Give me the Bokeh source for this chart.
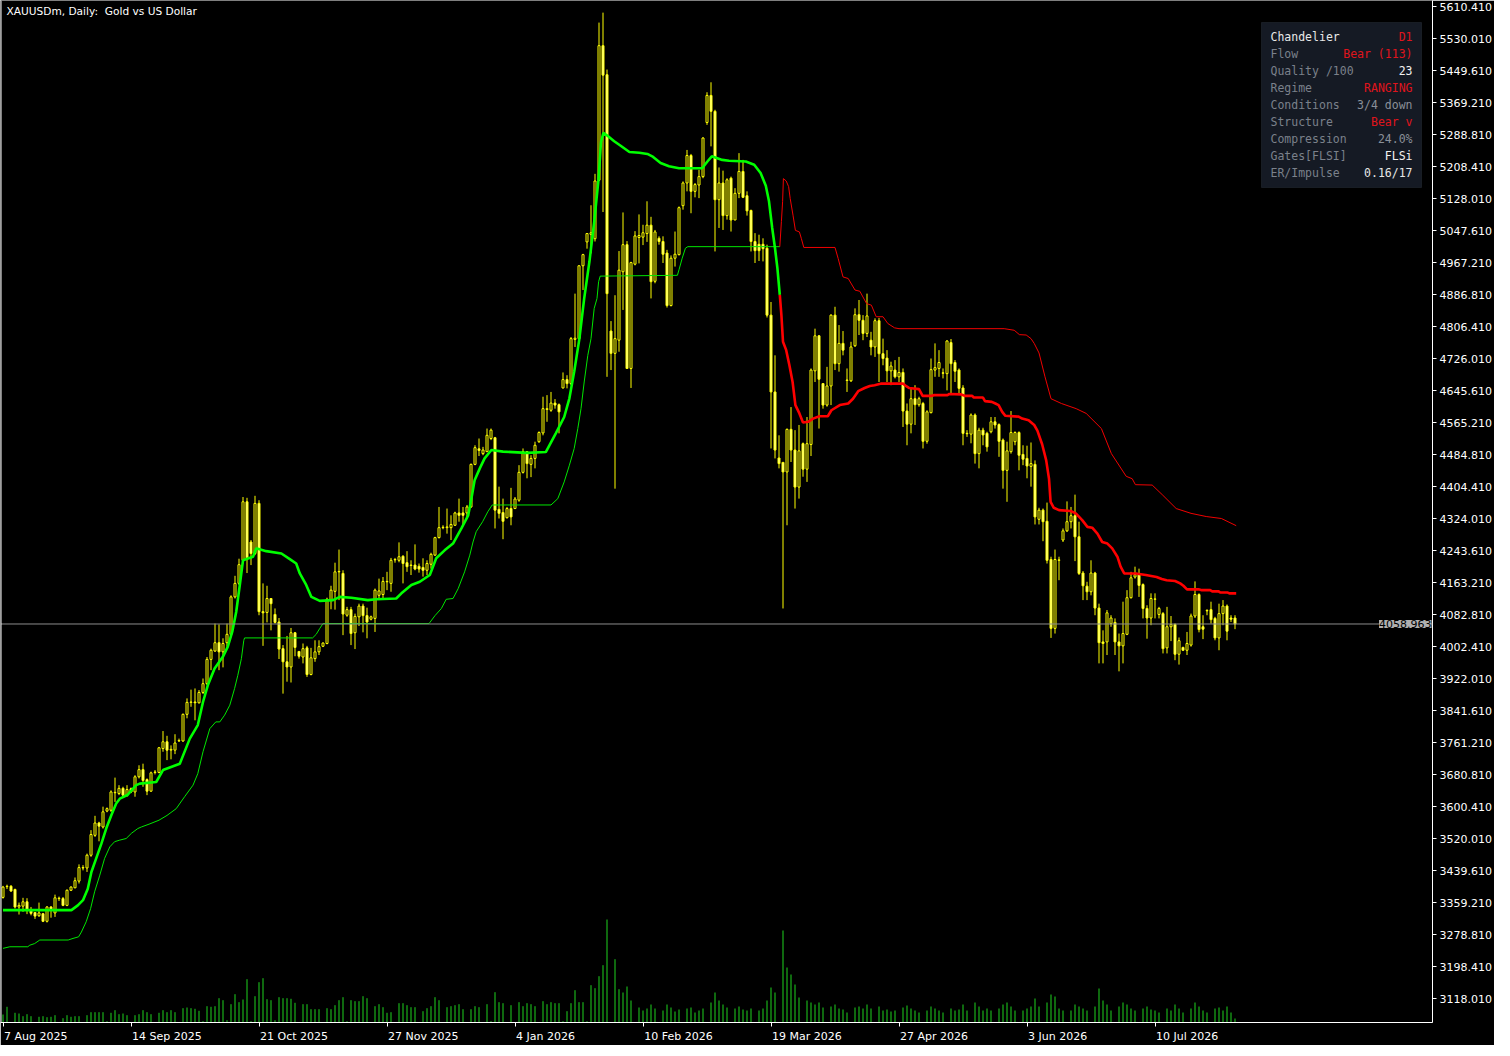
from bokeh.plotting import figure
from bokeh.models import (Range1d, FixedTicker, PrintfTickFormatter, Span, Label,
                          LabelSet, ColumnDataSource, BoxAnnotation)
from bokeh.core.properties import value
from bokeh.embed import file_html
from bokeh.resources import INLINE

# ---------------- data (XAUUSDm, D1) ----------------
open_ = [
 3372,3399,3400,3392,3348,3350,3361,3340,3334,3326,
 3331,3312,3348,3333,3370,3369,3352,3390,3396,3413,
 3446,3446,3478,3528,3559,3549,3589,3591,3635,3633,
 3646,3629,3645,3637,3675,3693,3668,3639,3686,3686,
 3746,3763,3742,3742,3765,3765,3832,3862,3863,3861,
 3887,3909,3970,3991,4012,3989,4012,4033,4127,4161,
 4219,4366,4265,4236,4362,4090,4088,4123,4083,4064,
 3997,3964,3951,4037,3990,3976,3999,3932,3972,3989,
 4003,4010,4119,4141,4190,4186,4081,4095,4037,4077,
 4104,4080,4071,4073,4131,4133,4165,4161,4220,4219,
 4229,4213,4207,4207,4204,4201,4194,4209,4232,4276,
 4301,4301,4301,4307,4338,4338,4338,4353,4460,4499,
 4487,4492,4525,4527,4347,4339,4326,4349,4349,4370,
 4440,4492,4460,4475,4517,4539,4598,4596,4614,4610,
 4652,4673,4663,4774,4776,4959,5019,5038,5027,5174,
 5512,5439,4795,4739,4772,4944,5012,4701,4963,5030,
 5031,5040,5061,4920,5028,5020,4991,4859,4978,4987,
 5110,5167,5236,5146,5162,5183,5319,5387,5347,5125,
 5167,5085,5179,5074,5141,5196,5135,5098,5020,5013,
 5013,5003,4835,4642,4476,4465,4441,4548,4496,4403,
 4512,4448,4510,4695,4783,4663,4609,4657,4835,4713,
 4764,4672,4670,4758,4836,4822,4789,4772,4755,4821,
 4738,4727,4695,4697,4680,4691,4594,4561,4625,4610,
 4613,4518,4590,4697,4701,4690,4688,4766,4716,4697,
 4652,4538,4536,4584,4487,4546,4538,4542,4567,4560,
 4521,4445,4492,4517,4540,4485,4475,4455,4460,4322,
 4345,4317,4221,4048,4220,4270,4293,4316,4331,4278,
 4187,4154,4140,4187,4099,4014,4014,4060,4063,4014,
 4004,4033,4125,4177,4183,4158,4098,4074,4121,4083,
 4085,3999,4052,4058,3983,4000,3993,4006,4079,4133,
 4052,4092,4095,4073,4024,4085,4104,4074,4074]

high = [
 3401,3404,3403,3394,3359,3371,3370,3348,3335,3359,
 3333,3350,3350,3379,3374,3373,3392,3400,3422,3455,
 3453,3482,3541,3577,3562,3600,3598,3641,3673,3654,
 3650,3654,3648,3679,3704,3708,3671,3688,3692,3750,
 3790,3778,3754,3782,3771,3834,3872,3894,3897,3893,
 3922,3976,3997,4060,4058,4023,4060,4131,4180,4223,
 4378,4376,4270,4381,4370,4161,4155,4124,4098,4074,
 4006,4029,4049,4039,3991,4010,4004,3999,4018,4018,
 4013,4125,4155,4213,4246,4194,4102,4102,4085,4110,
 4110,4100,4080,4148,4173,4177,4190,4225,4225,4264,
 4232,4242,4219,4259,4211,4224,4219,4238,4278,4353,
 4307,4349,4332,4341,4374,4353,4358,4462,4508,4525,
 4504,4550,4550,4529,4404,4374,4353,4401,4378,4458,
 4500,4493,4483,4517,4543,4630,4634,4642,4624,4613,
 4691,4684,4780,4889,4960,4989,5040,5111,5190,5570,
 5595,5452,4820,4885,4996,5093,5021,4969,5046,5088,
 5062,5121,5082,5049,5033,5033,4999,4985,5045,5108,
 5171,5250,5240,5167,5200,5282,5395,5420,5351,5206,
 5198,5179,5183,5154,5242,5225,5146,5100,5041,5037,
 5028,5012,4868,4734,4533,4466,4550,4604,4546,4559,
 4515,4579,4701,4801,4785,4663,4705,4837,4856,4810,
 4795,4701,4768,4852,4873,4835,4889,4793,4827,4828,
 4776,4747,4718,4722,4730,4701,4613,4651,4659,4630,
 4617,4596,4726,4764,4747,4701,4772,4775,4722,4701,
 4659,4546,4588,4588,4552,4552,4542,4579,4579,4563,
 4525,4517,4594,4543,4543,4508,4507,4515,4470,4351,
 4349,4364,4228,4246,4228,4299,4367,4353,4384,4316,
 4192,4165,4219,4190,4110,4043,4094,4081,4073,4035,
 4115,4144,4190,4203,4198,4161,4106,4136,4136,4102,
 4089,4102,4079,4060,4025,4002,4039,4085,4166,4136,
 4081,4096,4115,4077,4110,4119,4108,4081,4081]

low = [
 3369,3393,3386,3344,3329,3336,3330,3327,3318,3323,
 3310,3309,3321,3323,3363,3350,3350,3388,3396,3407,
 3440,3436,3474,3524,3513,3545,3586,3587,3612,3629,
 3625,3625,3634,3625,3671,3650,3629,3637,3681,3684,
 3738,3717,3719,3732,3763,3763,3822,3851,3817,3859,
 3883,3905,3943,3989,3943,3950,4002,4031,4123,4157,
 4211,4187,4207,4232,4081,4004,4063,4043,4060,3971,
 3884,3914,3912,3978,3972,3960,3926,3930,3964,3981,
 4001,4008,4096,4095,4119,4031,4077,4006,3996,4054,
 4038,4023,4068,4039,4119,4123,4144,4140,4213,4214,
 4161,4190,4182,4194,4188,4178,4182,4198,4230,4274,
 4297,4286,4270,4306,4316,4307,4324,4351,4458,4481,
 4483,4491,4521,4299,4324,4272,4324,4307,4351,4366,
 4437,4425,4428,4450,4514,4533,4567,4592,4600,4538,
 4651,4651,4659,4755,4772,4898,5002,4990,5020,5172,
 5094,4680,4697,4399,4743,4848,4701,4652,4960,4965,
 5011,5019,4877,4915,5012,4966,4854,4857,4957,4985,
 5100,5146,5091,5131,5129,5179,5313,5259,4995,5054,
 5049,5075,5045,5074,5129,5129,5085,4995,4966,4971,
 4970,4829,4500,4475,4450,4098,4307,4466,4349,4374,
 4429,4416,4481,4667,4550,4600,4605,4609,4697,4693,
 4734,4642,4667,4755,4785,4772,4780,4734,4730,4667,
 4709,4667,4659,4676,4667,4554,4508,4538,4559,4605,
 4500,4512,4588,4680,4680,4676,4646,4638,4667,4638,
 4508,4529,4513,4462,4450,4508,4492,4538,4550,4479,
 4399,4366,4487,4508,4445,4458,4425,4404,4309,4309,
 4267,4211,4024,4035,4169,4265,4290,4299,4217,4182,
 4119,4119,4131,4081,3960,3960,3981,4052,3981,3940,
 3960,4031,4123,4173,4127,4073,4022,4056,4073,4073,
 3985,3985,4016,3968,3957,3991,3981,4002,4074,4038,
 4021,4081,4060,4018,3993,4056,4018,4064,4046]

close = [
 3398,3400,3388,3348,3352,3361,3340,3332,3325,3333,
 3312,3348,3340,3371,3369,3352,3390,3398,3414,3447,
 3447,3478,3530,3559,3551,3587,3595,3637,3636,3646,
 3629,3643,3637,3675,3693,3666,3639,3685,3687,3748,
 3763,3742,3744,3760,3766,3832,3862,3863,3861,3887,
 3909,3970,3993,4012,3989,4010,4033,4127,4161,4208,
 4366,4225,4236,4362,4090,4087,4123,4110,4063,3996,
 3964,3951,4037,4000,3978,3997,3932,3974,3989,4002,
 4011,4121,4144,4190,4191,4084,4095,4035,4078,4104,
 4080,4064,4077,4144,4142,4166,4166,4219,4221,4228,
 4211,4203,4206,4197,4197,4194,4211,4234,4276,4301,
 4302,4303,4309,4338,4332,4332,4353,4460,4502,4495,
 4496,4533,4546,4345,4337,4317,4349,4328,4373,4440,
 4492,4462,4475,4508,4540,4600,4600,4614,4609,4592,
 4673,4663,4776,4777,4959,4987,5040,5042,5172,5512,
 5438,4889,4739,4776,4948,5012,4701,4967,5034,5035,
 5042,5061,4919,5044,5020,4988,4859,4978,4988,5105,
 5167,5236,5146,5163,5183,5280,5387,5347,5125,5167,
 5085,5175,5074,5141,5196,5131,5097,5020,4997,4997,
 5002,4835,4642,4496,4462,4441,4548,4496,4403,4494,
 4448,4512,4697,4783,4674,4609,4657,4835,4713,4764,
 4747,4671,4755,4836,4822,4789,4833,4755,4821,4738,
 4726,4695,4707,4680,4691,4594,4561,4625,4610,4625,
 4518,4592,4698,4703,4716,4689,4770,4713,4694,4651,
 4538,4537,4584,4487,4546,4534,4504,4567,4559,4518,
 4445,4494,4540,4540,4483,4473,4456,4462,4328,4345,
 4316,4219,4048,4221,4219,4293,4316,4331,4278,4186,
 4155,4140,4187,4099,4012,4010,4087,4074,4014,4004,
 4035,4125,4175,4183,4156,4098,4074,4123,4122,4098,
 3997,4052,4058,3983,4017,3993,4010,4079,4133,4045,
 4046,4093,4070,4024,4085,4104,4041,4071,4058.963]

volume = [
 8,15.7,0,9.7,9,6.3,8.3,6.3,0,5.7,
 6.3,5.3,5.7,7.3,0,4.3,7.3,5.7,6.3,6.3,
 0,7.3,10.3,10.3,10.3,10.3,1.3,9.7,12.3,8.3,
 9,7.3,0,7.3,8.3,12.3,10.3,8.3,0,9.7,
 12.3,10.3,12.3,10.3,0,14.3,15,14.3,13.7,11.7,
 1.3,16.3,15.7,16.3,24.3,22.3,2.3,18.3,28.3,20.3,
 23,43.3,1.3,26.3,40.3,44.3,23.3,22.3,2.3,25.3,
 24.3,24.3,23.7,19.7,0,18.3,18.3,13.3,13.3,13.3,
 0,14.3,13.3,17.3,22.3,25.3,1.3,22.3,21.3,21.3,
 26.3,24.3,0,16.3,18.3,15.3,9.7,10.3,0,19.3,
 19.3,17.3,15.3,15.3,0,11.3,14.3,16.3,25.3,22.3,
 0,15.3,16.3,17.3,18.3,13.3,0,13.3,16.3,15.3,
 0,18.3,1.3,30.3,20.3,19.3,0,17.3,0,20.3,
 16.3,19.3,18.3,16.3,0,21.3,18.3,20.3,19.3,19.3,
 1.3,11.3,19.3,32.3,20.3,20.3,1.3,37.3,34.3,46.3,
 57.3,103,0,63.3,33.3,30,36,22,0.5,15,
 12,14,18,14,0,12,18,15,11,13,
 0,14,15,10,12,14,0,20,30,22,
 18,15,0,14,16,13,12,14,0,12,
 14,22,35,30,0,92,55,48,38,25,
 0,22,20,18,20,15,0,16,18,14,
 13,10,0,15,16,14,18,14,0,16,
 12,13,11,12,0,15,17,14,12,10,
 0,12,16,14,12,10,0,14,12,13,
 18,12,0,20,16,12,14,12,0,14,
 18,20,16,12,0,12,14,16,24,16,
 0,20,28,26,14,12,0,12,18,16,
 14,12,0,16,34,22,18,12,0,16,
 20,18,14,12,0,14,16,13,12,10,
 0,14,12,18,14,10,0,14,20,16,
 12,10,0,14,15,12,16,10,4]

# Chandelier lines: (bar index, price) vertices
long_stop_bar = [0,17.1,18.7,20,21.2,22.1,23.3,24.6,25.8,27.1,28.3,29.2,31.2,33.3,34.2,38.3,40,44.2,
  46.7,48.7,50,51.2,52.9,55,56.2,57.3,58.3,59.2,60,62.5,63.3,65.8,69.6,71.7,73.3,74.2,75.8,77.1,79.2,
  82.5,84.2,87.1,91.2,93.3,98.3,99.6,102.1,104.2,106.7,108.3,110.4,112.5,114.6,116.3,117.1,117.9,119.2,
  120.4,122.1,125,131,135.7,136.6,138.2,140.3,141.6,142.8,144.1,145.3,146.6,147.8,148.9,149.5,150.1,
  151.2,152.8,154.5,156.6,159.1,161.1,162.3,164.4,166.5,169,174.8,176.1,177.2,179.8,181.5,185.7,187.8,
  189.4,190.7,191.5,192.3,193,193.6,194.2]
long_stop_val = [3340,3340,3352,3365,3394,3436,3470,3507,3545,3579,3608,3620,3630,3654,3658,3662,3692,3708,
  3771,3805,3863,3905,3947,3977,4002,4039,4089,4157,4219,4228,4249,4242,4236,4222,4211,4186,4157,4127,4117,
  4119,4127,4125,4119,4121,4123,4136,4157,4165,4182,4224,4244,4261,4299,4332,4374,4420,4450,
  4475,4496,4492,4489,4491,4508,4538,4579,4626,4693,4776,4877,4969,5069,5178,5270,5293,
  5285,5272,5260,5245,5243,5240,5234,5217,5209,5204,5204,5221,5234,5225,5223,5221,5213,
  5192,5160,5121,5054,5003,4953,4886]

long_wide_bar = [0,1.7,6.2,6.7,7.9,9.2,16.3,17.5,18.9,19.6,20.8,21.9,22.9,24.2,25.4,26.7,27.9,29.2,30.8,
  32.1,33.7,34.6,36.5,39,41,43.3,45.4,47.5,48.7,50,51.7,53.2,54.2,55.4,56.7,57.9,58.7,59.6,60.2,60.4,
  77.4,78.3,79.2,80,106.5,108,109.6,110.8,112.5,113.8,115.4,116.7,117.5,118.3,119.9,121.2,122.3,
  137,138.7,140.3,141.6,142.8,143.7,144.5,145.3,146.2,147,147.8,148.5,148.9,149.3,168.6,169,169.8,
  170.6,171.2,194.2]
long_wide_val = [3244,3248,3248,3252,3256,3265,3265,3269,3273,3285,3311,3344,3386,3428,3470,3499,3512,3516,3520,
  3533,3545,3549,3556,3566,3578,3595,3625,3654,3683,3738,3796,3813,3813,3830,3855,3897,3930,3972,4018,4024,
  4024,4033,4048,4060,4060,4080,4098,4121,4123,4148,4190,4232,4265,4291,4316,4341,4358,
  4358,4374,4416,4458,4500,4550,4600,4667,4734,4776,4852,4877,4919,4933,4935,4949,4978,
  5003,5007,5007]

short_stop_bar = [194.2,194.6,195,195.8,196.6,197.4,198.1,199.1,200,201.3,202.5,204.1,206.2,207.1,209.2,
  211.3,212.5,213.8,215.4,216.7,217.9,219.6,225,225.7,226.5,229,229.9,232,232.8,236.1,236.6,239.4,240.6,
  242.3,242.7,245,245.5,247.2,248.1,248.9,249.8,250.6,253.9,254.8,256.4,257.8,258.6,259.8,260.8,261.5,
  261.9,262.7,264,266.9,268.2,269.8,271.1,272.3,273.6,274.8,276.1,277.3,278.6,279.4,280.3,283.2,285.7,
  288.4,289.7,290.9,293,294.3,295.1,296,298.9,299.7,301.8,302.3,303.9,304.3,306.2,306.6,308.3]
short_stop_val = [4886,4835,4768,4747,4709,4667,4609,4588,4565,4567,4575,4581,4581,4596,4609,
  4613,4625,4644,4652,4657,4659,4663,4663,4657,4652,4649,4632,4632,4634,4634,4637,4636,4632,
  4632,4628,4628,4619,4617,4613,4609,4592,4582,4580,4575,4571,4559,4545,4510,4470,4424,
  4366,4351,4345,4343,4337,4320,4303,4301,4286,4265,4261,4249,4228,4203,4186,4186,4182,
  4177,4172,4169,4167,4161,4155,4146,4146,4144,4144,4141,4141,4138,4138,4136,4136]

short_wide_bar = [194.2,194.6,194.9,195.1,195.8,196.4,196.8,197.5,198.1,199.1,199.6,200.2,208,208.8,210,
  211.3,213,214.2,215.9,217.1,218.3,220,221.2,222.9,224,250.3,252.8,254.1,255.8,257,257.8,259,260.5,
  262,264.6,268.3,270.8,274.6,277.1,280.8,282.3,283.1,287.3,289.8,293.3,297,300.8,304.6,308.3]
short_wide_val = [5007,5070,5120,5178,5172,5158,5128,5086,5048,5044,5027,5005,5005,4977,4931,
  4927,4898,4895,4864,4860,4831,4831,4814,4803,4801,4801,4797,4786,4785,4776,4764,4740,4680,
  4625,4613,4600,4588,4550,4487,4430,4424,4409,4408,4384,4349,4337,4329,4324,4306]

date_tick_bars = [0, 32, 64, 96, 128, 160, 192, 224, 256, 288]
date_tick_labels = ["7 Aug 2025", "14 Sep 2025", "21 Oct 2025", "27 Nov 2025", "4 Jan 2026",
                    "10 Feb 2026", "19 Mar 2026", "27 Apr 2026", "3 Jun 2026", "10 Jul 2026"]
price_ticks = [5610.41, 5530.01, 5449.61, 5369.21, 5288.81, 5208.41, 5128.01, 5047.61, 4967.21,
               4886.81, 4806.41, 4726.01, 4645.61, 4565.21, 4484.81, 4404.41, 4324.01, 4243.61,
               4163.21, 4082.81, 4002.41, 3922.01, 3841.61, 3761.21, 3680.81, 3600.41, 3520.01,
               3439.61, 3359.21, 3278.81, 3198.41, 3118.01]
last_price = 4058.963

panel_labels = ["Chandelier", "Flow", "Quality /100", "Regime", "Conditions", "Structure",
                "Compression", "Gates[FLSI]", "ER/Impulse"]
panel_values = ["D1", "Bear (113)", "23", "RANGING", "3/4 down", "Bear v", "24.0%", "FLSi", "0.16/17"]

# ---------------- layout ----------------
FW, FH = 1432, 1022
PXB = 4.0            # px per bar
PPX = 2.5125         # price per px
X0 = -0.625
X1 = X0 + FW / PXB
Y1 = 5625.5
Y0 = Y1 - FH * PPX

def fx(px):
    return X0 + px / PXB

def fy(py):
    return Y1 - py * PPX

# approximate DejaVu Sans advance widths (1/2048 em) to place date labels to the right of their tick
_W = {" ": 651, "A": 1401, "F": 1178, "J": 604, "M": 1767, "N": 1532, "O": 1612, "S": 1300,
      "a": 1255, "b": 1300, "c": 1126, "e": 1260, "g": 1300, "l": 569, "n": 1298, "o": 1253,
      "p": 1300, "r": 842, "t": 803, "u": 1298, "v": 1212}
def text_px(s, size=11.0):
    return sum(_W.get(ch, 1303) for ch in s) / 2048.0 * size

label_centers = [round(b + (1.0 + text_px(t) / 2.0) / PXB, 3) for b, t in zip(date_tick_bars, date_tick_labels)]

p = figure(frame_width=FW, frame_height=FH, x_range=Range1d(X0, X1), y_range=Range1d(Y0, Y1),
           output_backend="svg", toolbar_location=None, y_axis_location="right",
           background_fill_color="black", border_fill_color="black",
           min_border_left=0, min_border_top=0, min_border_right=0, min_border_bottom=0)
p.grid.visible = False
p.outline_line_color = None
p.extra_y_ranges = {"vol": Range1d(0, FH)}

# axes
ya = p.yaxis[0]
ya.ticker = FixedTicker(ticks=price_ticks)
ya.formatter = PrintfTickFormatter(format="%.3f")
ya.axis_line_color = "white"
ya.major_tick_line_color = "white"
ya.major_tick_out = 4
ya.major_tick_in = 0
ya.minor_tick_line_color = None
ya.major_label_text_color = "white"
ya.major_label_text_font = "DejaVu Sans"
ya.major_label_text_font_size = "11px"
ya.major_label_standoff = 3

xa = p.xaxis[0]
xa.ticker = FixedTicker(ticks=label_centers, minor_ticks=date_tick_bars)
xa.major_label_overrides = {c: t for c, t in zip(label_centers, date_tick_labels)}
xa.axis_line_color = "white"
xa.major_tick_line_color = None
xa.major_tick_out = 0
xa.major_tick_in = 0
xa.minor_tick_line_color = "white"
xa.minor_tick_out = 4
xa.minor_tick_in = 0
xa.major_label_text_color = "white"
xa.major_label_text_font = "DejaVu Sans"
xa.major_label_text_font_size = "11px"
xa.major_label_standoff = 3

# volume
xs = list(range(len(close)))
p.segment(x0=xs, y0=[0] * len(xs), x1=xs, y1=volume, y_range_name="vol",
          line_color="#1fd21f", line_width=1)

# candles
bull = dict(x=[], h=[], l=[], top=[], bot=[])
bear = dict(x=[], h=[], l=[], top=[], bot=[])
for i in xs:
    d = bull if close[i] >= open_[i] else bear
    d["x"].append(i)
    d["h"].append(max(high[i], open_[i], close[i])); d["l"].append(min(low[i], open_[i], close[i]))
    d["top"].append(max(open_[i], close[i])); d["bot"].append(min(open_[i], close[i]))
for d, fill in ((bull, "black"), (bear, "#ffffa6")):
    src = ColumnDataSource(d)
    p.segment(x0="x", y0="l", x1="x", y1="h", source=src, line_color="#ffff00", line_width=1)
    p.vbar(x="x", width=0.5, top="top", bottom="bot", source=src,
           fill_color=fill, line_color="#ffff00", line_width=1)

# chandelier lines
p.line(long_wide_bar, long_wide_val, line_color="#00e600", line_width=1)
p.line(long_stop_bar, long_stop_val, line_color="#00ff00", line_width=2.6)
p.line(short_wide_bar, short_wide_val, line_color="#f00000", line_width=1)
p.line(short_stop_bar, short_stop_val, line_color="#ff0000", line_width=2.6)

# current price line and tag
p.add_layout(Span(location=last_price, dimension="width", line_color="#8c8c8c", line_width=1))
p.add_layout(Span(location=fx(0.5), dimension="height", line_color="white", line_width=1))
p.add_layout(Label(x=X1, y=last_price, text="%.3f" % last_price, text_align="right",
                   text_baseline="middle", x_offset=-1, text_color="black",
                   background_fill_color="#b0b0b0", background_fill_alpha=1.0,
                   text_font="DejaVu Sans", text_font_size="11px", level="overlay"))

# title
p.add_layout(Label(x=fx(6), y=fy(4), text="XAUUSDm, Daily:\u00a0 Gold vs US Dollar", text_align="left",
                   text_baseline="top", text_color="white", text_font="DejaVu Sans",
                   text_font_size="10.6px"))

# info panel
p.add_layout(BoxAnnotation(left=fx(1261), right=fx(1421), top=fy(22), bottom=fy(187),
                           fill_color="#151a24", fill_alpha=1.0, line_color="#3b4150", line_width=1))
rows_y = [fy(36 + 17 * k) for k in range(len(panel_labels))]
lab_colors = ["#e8e8e8"] + ["#7b818b"] * (len(panel_labels) - 1)
red, white, grey = "#e0141c", "#f2f2f2", "#8a9099"
val_colors = [red, red, white, red, grey, red, grey, white, "#e6e6e6"]
lsrc = ColumnDataSource(dict(x=[fx(1270)] * len(panel_labels), y=rows_y, t=panel_labels, c=lab_colors))
vsrc = ColumnDataSource(dict(x=[fx(1412)] * len(panel_values), y=rows_y, t=panel_values, c=val_colors))
p.add_layout(LabelSet(x="x", y="y", text="t", source=lsrc, text_color="c", text_align="left",
                      text_baseline="middle", text_font=value("DejaVu Sans Mono"),
                      text_font_size=value("11.5px")))
p.add_layout(LabelSet(x="x", y="y", text="t", source=vsrc, text_color="c", text_align="right",
                      text_baseline="middle", text_font=value("DejaVu Sans Mono"),
                      text_font_size=value("11.5px")))

open("out.html", "w").write(file_html(p, INLINE))
